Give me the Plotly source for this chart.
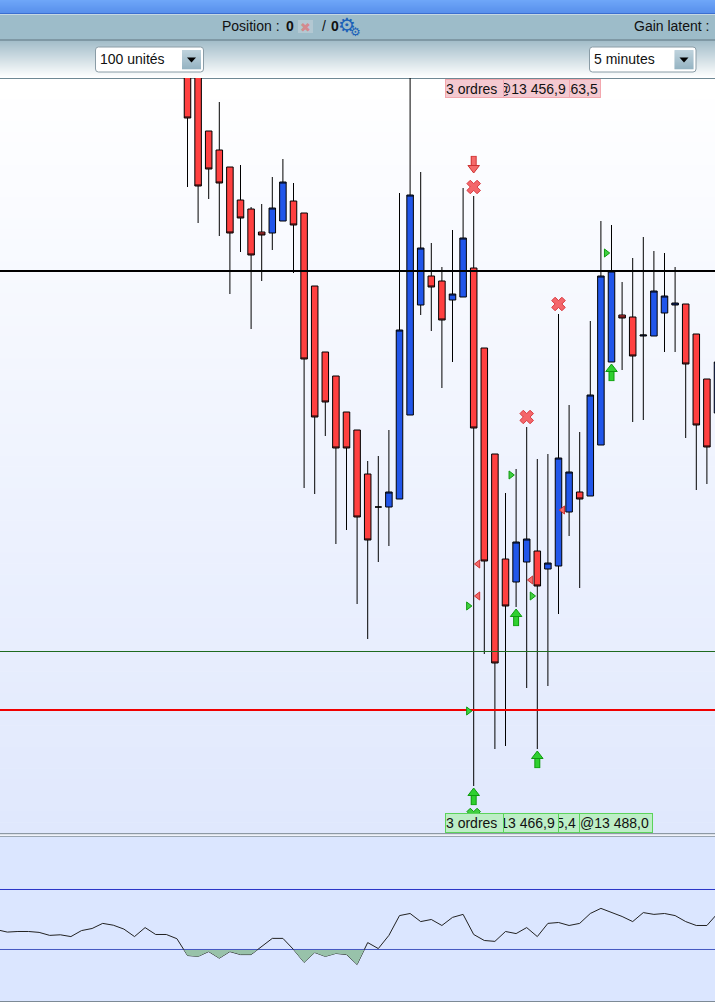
import plotly.graph_objects as go

W = 715
H = 1002

# candles, index 0 is the first one drawn
idx = list(range(51))
opens = [13500.8, 13500.8, 13494.7, 13492.8, 13491.1, 13487.8, 13486.9, 13484.6, 13484.5, 13485.7,
         13487.7, 13486.5, 13479.2, 13472.6, 13470.2, 13466.6, 13464.8, 13460.4, 13457.1, 13457.1,
         13457.9, 13466.3, 13477.3, 13480.2, 13479.7, 13477.8, 13478.1, 13481.0, 13473.0, 13462.4,
         13451.9, 13449.6, 13451.6, 13452.7, 13450.9, 13451.2, 13456.6, 13458.6, 13458.2, 13463.3,
         13471.6, 13476.3, 13476.1, 13474.2, 13474.2, 13476.5, 13477.3, 13477.4, 13474.4, 13469.9,
         13466.5]
highs = [13501.8, 13501.8, 13494.7, 13497.6, 13491.1, 13491.3, 13487.1, 13487.4, 13490.1, 13491.9,
         13489.5, 13486.5, 13479.2, 13472.6, 13470.2, 13466.6, 13464.8, 13461.7, 13462.2, 13464.8,
         13488.5, 13501.8, 13490.6, 13483.5, 13481.1, 13484.8, 13489.0, 13488.2, 13473.0, 13462.4,
         13458.5, 13460.9, 13465.1, 13461.9, 13462.4, 13476.4, 13467.3, 13464.6, 13475.7, 13485.7,
         13485.3, 13479.6, 13482.0, 13484.1, 13482.7, 13482.5, 13481.1, 13477.4, 13474.4, 13469.9,
         13471.6]
lows = [13489.1, 13485.5, 13487.9, 13484.2, 13478.4, 13482.6, 13474.9, 13479.7, 13482.8, 13485.7,
        13480.5, 13459.0, 13458.4, 13464.2, 13453.4, 13454.8, 13447.4, 13443.9, 13451.6, 13453.2,
        13457.9, 13466.3, 13476.3, 13474.7, 13469.0, 13471.6, 13478.1, 13429.2, 13442.4, 13432.9,
        13433.2, 13447.1, 13439.0, 13432.9, 13439.2, 13446.4, 13454.2, 13449.0, 13458.2, 13463.3,
        13471.6, 13470.8, 13465.6, 13465.8, 13474.2, 13472.6, 13472.6, 13464.0, 13458.8, 13459.4,
        13466.5]
closes = [13496.0, 13489.2, 13490.9, 13489.5, 13484.5, 13486.0, 13482.3, 13484.3, 13487.0, 13489.6,
          13485.3, 13471.9, 13466.1, 13467.6, 13463.0, 13463.0, 13456.1, 13453.8, 13457.1, 13458.6,
          13474.8, 13488.3, 13483.0, 13479.1, 13475.8, 13478.4, 13484.0, 13465.0, 13451.7, 13441.5,
          13447.2, 13453.6, 13453.9, 13449.2, 13451.5, 13462.0, 13460.6, 13457.9, 13468.3, 13480.2,
          13480.7, 13476.0, 13472.2, 13474.3, 13478.7, 13478.2, 13477.5, 13471.4, 13465.3, 13463.1,
          13471.6]

# horizontal levels on the price panel
level_black = 13480.7
level_green = 13442.65
level_red = 13436.8

# order markers
cross_x = [27, 32, 35]
cross_y = [13489.1, 13466.1, 13477.4]
up_x = [27, 31, 33, 40]
up_y = [13428.2, 13446.1, 13431.9, 13470.6]
down_x = [27]
down_y = [13491.3]
buried_x = [27]
buried_y = [13426.3]
tri_red_x = [27.4, 27.4, 32.4, 35.4]
tri_red_y = [13451.4, 13448.2, 13449.8, 13456.8]
tri_green_x = [26.5, 26.5, 30.5, 32.5, 39.5]
tri_green_y = [13447.2, 13436.7, 13460.3, 13448.2, 13482.5]

# oscillator
rsi_x = list(range(-18, 51))
rsi = [56.6, 55.8, 56.0, 56.0, 55.7, 54.7, 54.9, 54.3, 56.3, 57.0, 58.7, 58.1, 56.8, 54.3, 57.3, 55.0,
       55.0, 53.6, 48.0, 47.7, 49.3, 47.1, 49.3, 48.3, 48.3, 50.9, 53.7, 53.7, 50.0, 45.7, 49.0, 47.7,
       48.7, 48.3, 45.0, 52.3, 50.3, 54.7, 61.3, 62.0, 59.3, 60.0, 58.0, 60.7, 61.7, 55.0, 53.0, 52.7,
       56.0, 55.3, 57.3, 54.3, 58.7, 59.0, 58.0, 58.7, 62.0, 63.7, 62.3, 61.0, 59.3, 62.3, 61.7, 62.0,
       61.3, 59.3, 58.0, 58.0, 62.0]
rsi_levels = [70, 50]


def px(x):
    return x / W


def py(y):
    return 1 - y / H


def mix(c0, c1, t):
    return "rgb({},{},{})".format(*[round(a + (b - a) * t) for a, b in zip(c0, c1)])


shapes = []


def rect(x0, y0, x1, y1, color, layer="below"):
    shapes.append(dict(type="rect", xref="paper", yref="paper", x0=px(x0), x1=px(x1), y0=py(y0), y1=py(y1),
                       fillcolor=color, line_width=0, layer=layer))


def band(y0, y1, c0, c1, n):
    step = (y1 - y0) / n
    for i in range(n):
        rect(0, y0 + i * step, W, y0 + (i + 1) * step + 0.5, mix(c0, c1, i / max(n - 1, 1)))


def dropdown(x0, x1, text):
    r = 3
    y0, y1 = 47, 72
    path = "M{},{} L{},{} Q{},{} {},{} L{},{} Q{},{} {},{} L{},{} Q{},{} {},{} L{},{} Q{},{} {},{} Z".format(
        px(x0 + r), py(y0), px(x1 - r), py(y0), px(x1), py(y0), px(x1), py(y0 + r),
        px(x1), py(y1 - r), px(x1), py(y1), px(x1 - r), py(y1),
        px(x0 + r), py(y1), px(x0), py(y1), px(x0), py(y1 - r),
        px(x0), py(y0 + r), px(x0), py(y0), px(x0 + r), py(y0))
    shapes.append(dict(type="path", xref="paper", yref="paper", path=path, fillcolor="white",
                       line=dict(color="#8a9ca6", width=1), layer="above"))
    for i in range(19):
        y = 50 + i
        shapes.append(dict(type="rect", xref="paper", yref="paper", x0=px(x1 - 21.5), x1=px(x1 - 2.5),
                           y0=py(y), y1=py(y + 1.3), fillcolor=mix((190, 210, 220), (150, 180, 195), i / 18),
                           line_width=0, layer="above"))
    tri = "M{},{} L{},{} L{},{} Z".format(px(x1 - 16.5), py(57.5), px(x1 - 7.5), py(57.5), px(x1 - 12), py(62.5))
    shapes.append(dict(type="path", xref="paper", yref="paper", path=tri, fillcolor="black", line_width=0,
                       layer="above"))
    texts.append(dict(x=x0 + 2, y=59.5, text=text))


texts = [
    dict(x=220, y=26, text="Position :"),
    dict(x=284, y=26, text="<b>0</b>"),
    dict(x=320, y=26, text="/"),
    dict(x=329, y=26, text="<b>0</b>"),
    dict(x=632, y=26, text="Gain latent :"),
]

# window chrome
band(0, 13, (110, 166, 248), (88, 144, 236), 13)
rect(0, 13, W, 14, "#3b6fd0")
rect(0, 14, W, 15, "#c6d8e2")
rect(0, 15, W, 39, "#9dbcc9")
rect(0, 39, W, 41, "#7f98a4")
band(41, 78, (164, 190, 202), (255, 255, 255), 37)
band(78, 833, (255, 255, 255), (224, 232, 253), 70)
rect(0, 78, W, 79, "#6f8894")
rect(0, 833, W, 834.5, "#8d99a5")
rect(0, 834.5, W, 836, "#f0f3fb")
rect(0, 836, W, 1002, "#dbe6ff")
rect(0, 836, W, 837, "#9aa6b2")
rect(0, 1001, W, 1002, "#7d8a96")
rect(298, 20, 313, 33, "#b3c8d2", layer="above")

dropdown(95.5, 203.5, "100 unités")
dropdown(589.5, 696, "5 minutes")

fig = go.Figure()

# main panel spacing: one candle every 10.6 px, candle 0 centred at 187.5 px
x_range = [-187.5 / 10.6, (W - 187.5) / 10.6]
main_range = [13424.4, 13500]

for level, color, width in [(level_black, "#000000", 2), (level_green, "#1f6b1f", 1), (level_red, "#f00000", 2)]:
    fig.add_trace(go.Scatter(x=x_range, y=[level, level], mode="lines", line=dict(color=color, width=width),
                             hoverinfo="skip", showlegend=False))

fig.add_trace(go.Candlestick(
    x=idx, open=opens, high=highs, low=lows, close=closes, whiskerwidth=0, showlegend=False,
    increasing=dict(fillcolor="#2156ea", line=dict(color="#000000", width=1)),
    decreasing=dict(fillcolor="#ff4040", line=dict(color="#000000", width=1)),
))


def markers(x, y, symbol, size, color, line_color=None, line_width=1):
    fig.add_trace(go.Scatter(x=x, y=y, mode="markers", hoverinfo="skip", showlegend=False,
                             marker=dict(symbol=symbol, size=size, color=color,
                                         line=dict(color=line_color or color, width=line_width))))


markers(cross_x, cross_y, "x", 12, "#f4666a", "#d83a40")
markers(tri_red_x, tri_red_y, "triangle-left", 7, "#f56a6a", "#cc3333")
markers(tri_green_x, tri_green_y, "triangle-right", 7, "#3fd03f", "#0f9a0f")
markers(buried_x, buried_y, "x", 12, "#3fd03f", "#0f9a0f")
# block arrows = stem + head
markers(up_x, [v - 0.35 for v in up_y], "line-ns", 8, "#0f9a0f", "#0f9a0f", 6)
markers(up_x, [v - 0.35 for v in up_y], "line-ns", 7, "#2fd02f", "#2fd02f", 4)
markers(up_x, [v + 0.3 for v in up_y], "triangle-up", 10, "#2fd02f", "#0f9a0f")
markers(down_x, [v + 0.35 for v in down_y], "line-ns", 8, "#cc3333", "#cc3333", 6)
markers(down_x, [v + 0.35 for v in down_y], "line-ns", 7, "#f56a6a", "#f56a6a", 4)
markers(down_x, [v - 0.3 for v in down_y], "triangle-down", 10, "#f56a6a", "#cc3333")

# oscillator panel
fig.add_trace(go.Scatter(x=rsi_x, y=[50] * len(rsi_x), mode="lines", line=dict(width=0), yaxis="y3",
                         hoverinfo="skip", showlegend=False))
fig.add_trace(go.Scatter(x=rsi_x, y=rsi, mode="lines", line=dict(width=0), fill="tonexty", fillcolor="#98c2aa",
                         yaxis="y3", hoverinfo="skip", showlegend=False))
for level in rsi_levels:
    fig.add_trace(go.Scatter(x=x_range, y=[level, level], mode="lines", line=dict(color="#2a35c8", width=1),
                             yaxis="y2", hoverinfo="skip", showlegend=False))
fig.add_trace(go.Scatter(x=rsi_x, y=rsi, mode="lines", line=dict(color="#222222", width=1), yaxis="y2",
                         hoverinfo="skip", showlegend=False))

annotations = []
for t in texts:
    annotations.append(dict(xref="paper", yref="paper", x=px(t["x"]), y=py(t["y"]), text=t["text"], showarrow=False,
                            xanchor="left", yanchor="middle", font=dict(family="Liberation Sans", size=14, color="#111111")))

# these glyphs sit low in their line box, hence the smaller y
annotations.append(dict(xref="paper", yref="paper", x=px(305.5), y=py(18), text="✖", showarrow=False,
                        font=dict(family="DejaVu Sans", size=13, color="#d48a8e")))
annotations.append(dict(xref="paper", yref="paper", x=px(346.5), y=py(11), text="⚙", showarrow=False,
                        font=dict(family="DejaVu Sans", size=20, color="#1c62b8")))
annotations.append(dict(xref="paper", yref="paper", x=px(355), y=py(23), text="⚙", showarrow=False,
                        font=dict(family="DejaVu Sans", size=12, color="#1c62b8")))


def chip(x0, x1, y0, y1, text, fill, border):
    annotations.append(dict(xref="paper", yref="paper", x=px(x0), y=py((y0 + y1) / 2), text=text, showarrow=False,
                            xanchor="left", yanchor="middle", align="left", width=x1 - x0 - 2, height=y1 - y0 - 2,
                            bgcolor=fill, bordercolor=border, borderwidth=1, borderpad=0,
                            font=dict(family="Liberation Sans", size=14, color="#111111")))


red_fill, red_line = "#f4c9d0", "#f3a7ae"
green_fill, green_line = "#bdeec6", "#5bd35b"
chip(528, 601, 79, 98, "@13 463,5", red_fill, red_line)
chip(496, 569.5, 79, 98, "@13 456,9", red_fill, red_line)
chip(444.5, 503, 79, 98, "3 ordres", red_fill, red_line)
chip(579, 653, 813, 833, "@13 488,0", green_fill, green_line)
chip(506, 579.5, 813, 833, "@13 465,4", green_fill, green_line)
chip(485, 558.5, 813, 833, "@13 466,9", green_fill, green_line)
chip(444.5, 503.5, 813, 833, "3 ordres", green_fill, green_line)

hidden = dict(visible=False, fixedrange=True)
fig.update_layout(
    width=W,
    height=H,
    margin=dict(l=0, r=0, t=0, b=0),
    autosize=False,
    paper_bgcolor="rgba(0,0,0,0)",
    plot_bgcolor="rgba(0,0,0,0)",
    boxgap=0.12,
    showlegend=False,
    xaxis=dict(range=x_range, rangeslider=dict(visible=False), **hidden),
    yaxis=dict(range=main_range, domain=[py(834), py(78)], **hidden),
    yaxis2=dict(range=[32.83, 87.83], domain=[py(1001), py(836)], **hidden),
    # same scale as yaxis2, cut at 50 so that only the part under the level gets filled
    yaxis3=dict(range=[32.83, 50], domain=[py(1001), py(949.5)], **hidden),
    shapes=shapes,
    annotations=annotations,
)

# the page has a default body margin that would push everything by 8 px
fig.write_html("out.html", config=dict(displayModeBar=False), post_script="document.body.style.margin='0';")
